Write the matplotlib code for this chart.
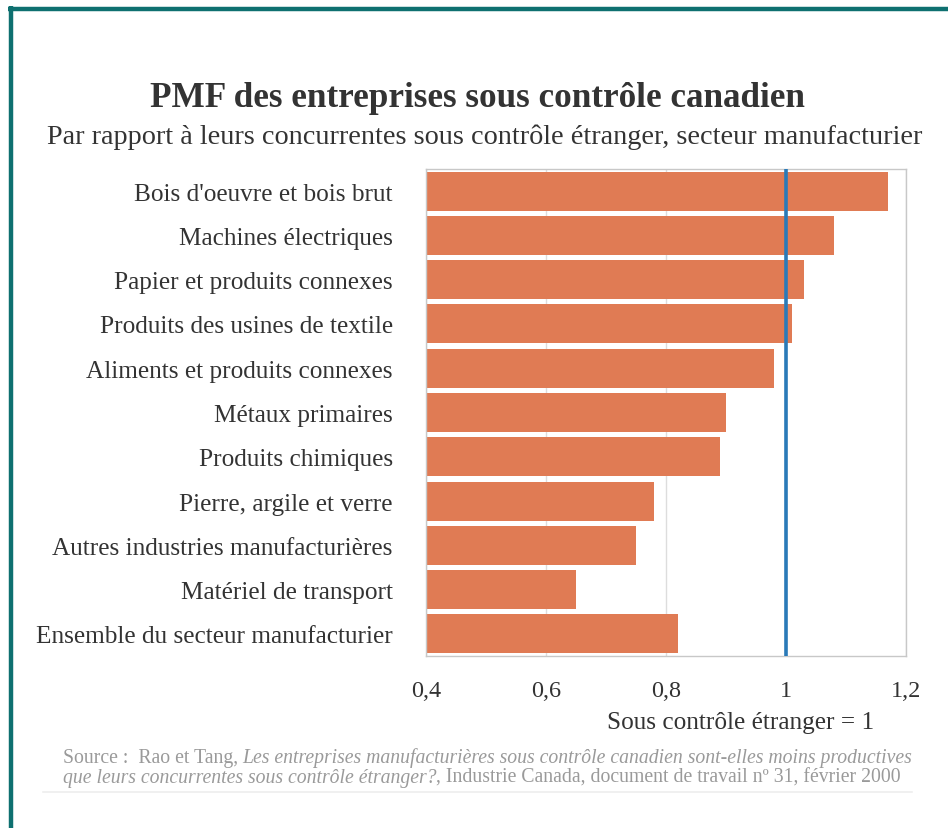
import matplotlib.pyplot as plt
from matplotlib.lines import Line2D

# Données
categories = [
    "Bois d'oeuvre et bois brut",
    "Machines électriques",
    "Papier et produits connexes",
    "Produits des usines de textile",
    "Aliments et produits connexes",
    "Métaux primaires",
    "Produits chimiques",
    "Pierre, argile et verre",
    "Autres industries manufacturières",
    "Matériel de transport",
    "Ensemble du secteur manufacturier",
]
pmf = [1.17, 1.08, 1.03, 1.01, 0.98, 0.90, 0.89, 0.78, 0.75, 0.65, 0.82]
xticks = [0.4, 0.6, 0.8, 1.0, 1.2]
xtick_labels = ["0,4", "0,6", "0,8", "1", "1,2"]
reference = 1.0

plt.rcParams['font.family'] = ['Liberation Serif', 'DejaVu Serif']

fig = plt.figure(figsize=(9.48, 8.29), dpi=100)
ax = fig.add_axes([0.4494, 0.2075, 0.5063, 0.5874])

y = range(len(categories))
ax.barh(y, [v - 0.4 for v in pmf], left=0.4, height=0.88, color='#e07b54', zorder=2)
ax.axvline(reference, color='#2a7ab8', linewidth=2.6, zorder=3)

ax.set_xlim(0.4, 1.2)
ax.set_ylim(len(categories) - 0.5, -0.5)
ax.set_xticks(xticks)
ax.set_xticklabels(xtick_labels, fontsize=17.5, color='#333333')
ax.set_yticks(list(y))
ax.set_yticklabels(categories, fontsize=18.2, color='#333333')
ax.tick_params(axis='both', length=0)
ax.tick_params(axis='y', pad=24)
ax.tick_params(axis='x', pad=17)
ax.grid(axis='x', color='#dddddd', linewidth=1, zorder=0)
for s in ax.spines.values():
    s.set_color('#c8c8c8')
    s.set_linewidth(1)

ax.set_xlabel("Sous contrôle étranger = 1", fontsize=18.2, color='#333333')
ax.xaxis.set_label_coords(0.656, -0.113)

# Titres
fig.text(0.504, 0.881, "PMF des entreprises sous contrôle canadien",
         ha='center', va='center', fontsize=25.3, fontweight='bold', color='#333333')
fig.text(0.511, 0.835, "Par rapport à leurs concurrentes sous contrôle étranger, secteur manufacturier",
         ha='center', va='center', fontsize=20.3, color='#333333')

# Source
src = dict(fontsize=14.2, color='#9a9a9a', va='bottom')
t1 = fig.text(0.066, 0.0736, "Source :  Rao et Tang, ", **src)
ax.annotate("Les entreprises manufacturières sous contrôle canadien sont-elles moins productives",
            xy=(1, 0), xycoords=t1, style='italic', annotation_clip=False, **src)
t3 = fig.text(0.066, 0.0495, "que leurs concurrentes sous contrôle étranger?", style='italic', **src)
ax.annotate(", Industrie Canada, document de travail nº 31, février 2000",
            xy=(1, 0), xycoords=t3, annotation_clip=False, **src)

# Ligne sous la source et cadre
fig.add_artist(Line2D([0.045, 0.962], [0.043, 0.043], color='#eeeeee', linewidth=1.2))
fig.add_artist(Line2D([0.0085, 1.0], [0.9885, 0.9885], color='#0e7070', linewidth=3.2,
                      solid_capstyle='butt'))
fig.add_artist(Line2D([0.0115, 0.0115], [0.0, 0.991], color='#0e7070', linewidth=3.2,
                      solid_capstyle='butt'))

plt.savefig('out.png', dpi=100)
